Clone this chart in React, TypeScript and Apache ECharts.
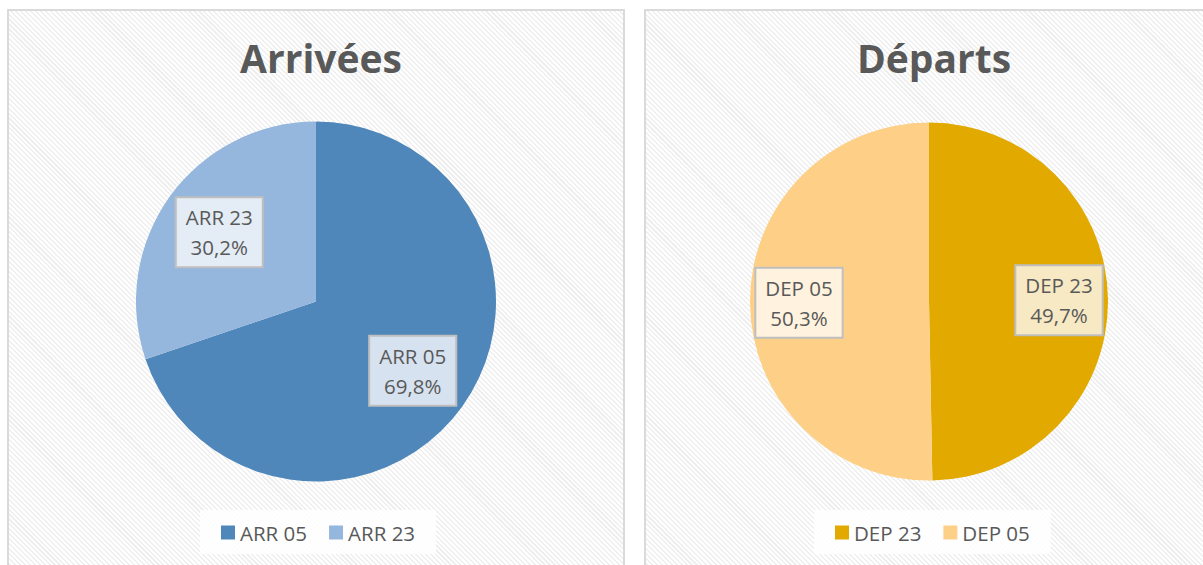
import React, { useEffect, useRef } from "react";
import * as echarts from "echarts";

const arrNames = ["ARR 05", "ARR 23"];
const arrValues = [69.8, 30.2];
const arrColors = ["#4F87BA", "#95B7DD"];
const arrLabelBg = ["#D6E2EF", "#E4ECF6"];

const depNames = ["DEP 23", "DEP 05"];
const depValues = [49.7, 50.3];
const depColors = ["#E2A900", "#FED087"];
const depLabelBg = ["#F6E9C4", "#FFF2DE"];

const titles = ["Arrivées", "Départs"];

const FONT = "'Open Sans', sans-serif";
const TXT = "#595959";

function fmtPct(p: number) {
  return p.toFixed(1).replace(".", ",") + "%";
}

function buildPie(
  names: string[],
  values: number[],
  colors: string[],
  labelBg: string[],
  center: number[],
  r: number,
  labelR: number
) {
  const real = {
    type: "pie",
    center,
    radius: [0, r],
    startAngle: 90,
    clockwise: true,
    silent: true,
    label: { show: false },
    labelLine: { show: false },
    itemStyle: { borderWidth: 0 },
    data: names.map((n, i) => ({
      name: n,
      value: values[i],
      itemStyle: { color: colors[i] },
    })),
  };
  const overlay = {
    type: "pie",
    center,
    radius: [0, labelR],
    startAngle: 90,
    clockwise: true,
    silent: true,
    legendHoverLink: false,
    itemStyle: { color: "rgba(0,0,0,0)", borderWidth: 0 },
    labelLine: { show: false },
    label: {
      show: true,
      position: "inside",
      fontFamily: FONT,
      fontSize: 20.5,
      lineHeight: 30,
      color: TXT,
      borderColor: "#BFBFBF",
      borderWidth: 2,
      padding: [4, 9, 4, 9],
      formatter: (p: any) => p.name + "\n" + fmtPct(p.percent),
    },
    data: names.map((n, i) => ({
      name: n,
      value: values[i],
      label: { backgroundColor: labelBg[i] },
    })),
  };
  return [real, overlay];
}

export default function App() {
  const ref = useRef<HTMLDivElement>(null);
  useEffect(() => {
    if (!ref.current) return;
    const chart = echarts.init(ref.current, null, { renderer: "svg" });
    const legendCommon = {
      orient: "horizontal",
      top: 510,
      icon: "rect",
      itemWidth: 14,
      itemHeight: 14,
      itemGap: 22,
      padding: [12, 21, 11, 21],
      backgroundColor: "rgba(255,255,255,0.85)",
      textStyle: { fontFamily: FONT, fontSize: 20.5, color: TXT },
      selectedMode: false,
    };
    const titleStyle = { fontFamily: FONT, fontSize: 39, fontWeight: "bold", color: TXT };
    chart.setOption({
      animation: false,
      backgroundColor: "transparent",
      title: [
        { text: titles[0], left: 316, top: 33, textAlign: "center", textStyle: titleStyle },
        { text: titles[1], left: 929, top: 33, textAlign: "center", textStyle: titleStyle },
      ],
      legend: [
        { ...legendCommon, left: 200, data: arrNames },
        { ...legendCommon, left: 814, data: depNames },
      ],
      series: [
        ...buildPie(arrNames, arrValues, arrColors, arrLabelBg, [316, 301.5], 180, 232),
        ...buildPie(depNames, depValues, depColors, depLabelBg, [929, 301.5], 179, 254),
      ],
    });
    return () => chart.dispose();
  }, []);

  const stripes =
    "repeating-linear-gradient(45deg, #ffffff 0px, #ffffff 2px, #efefef 2px, #efefef 3.5px)";
  const panel = (left: number, width: number): React.CSSProperties => ({
    position: "absolute",
    left,
    top: 9,
    width,
    height: 600,
    border: "2px solid #DADADA",
    background: stripes,
    boxSizing: "border-box",
  });

  return (
    <div
      style={{
        position: "fixed",
        left: 0,
        top: 0,
        width: 1203,
        height: 565,
        overflow: "hidden",
        background: "#ffffff",
      }}
    >
      <div style={panel(7, 618)} />
      <div style={panel(644, 620)} />
      <div
        ref={ref}
        style={{ position: "absolute", left: 0, top: 0, width: 1203, height: 565 }}
      />
    </div>
  );
}
